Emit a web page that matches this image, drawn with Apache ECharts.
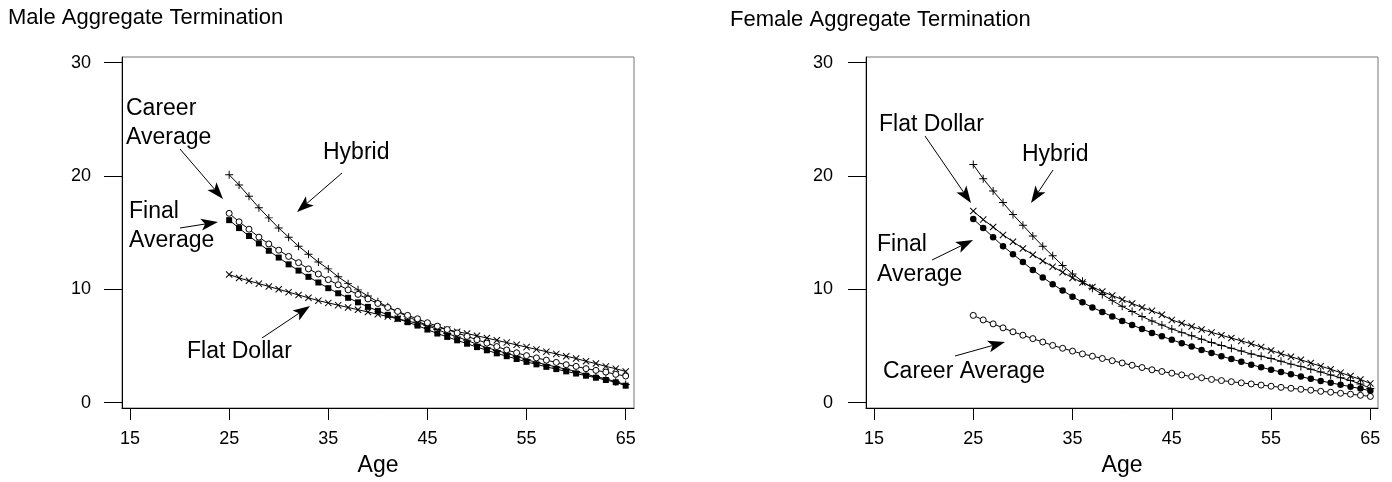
<!DOCTYPE html>
<html>
<head>
<meta charset="utf-8">
<script src="https://cdn.jsdelivr.net/npm/echarts@6/dist/echarts.min.js"></script>
<style>
html,body{margin:0;padding:0;background:#fff;}
#c{width:1392px;height:482px;}
</style>
</head>
<body>
<div id="c"></div>
<script>
// ---------- DATA ----------
const ages = [25,26,27,28,29,30,31,32,33,34,35,36,37,38,39,40,41,42,43,44,45,46,47,48,49,50,51,52,53,54,55,56,57,58,59,60,61,62,63,64,65];
const xTicks = [15,25,35,45,55,65];
const yTicks = [0,10,20,30];

// Male
const maleHybrid = [20.1,19.2,18.2,17.2,16.3,15.4,14.6,13.8,13.1,12.4,11.8,11.1,10.5,9.95,9.4,8.9,8.45,8.0,7.6,7.2,6.8,6.45,6.1,5.8,5.5,5.15,4.85,4.6,4.35,4.1,3.8,3.55,3.35,3.15,2.95,2.75,2.5,2.3,2.1,1.85,1.6];
const maleCareer = [16.7,15.95,15.3,14.6,14.0,13.45,12.9,12.35,11.8,11.35,10.85,10.4,9.95,9.55,9.15,8.75,8.4,8.05,7.7,7.4,7.05,6.75,6.45,6.15,5.85,5.55,5.25,4.95,4.65,4.4,4.15,3.95,3.75,3.55,3.35,3.2,3.0,2.85,2.7,2.5,2.35];
const maleFinal = [16.1,15.4,14.7,14.05,13.4,12.8,12.2,11.65,11.1,10.6,10.1,9.65,9.25,8.85,8.45,8.1,7.75,7.4,7.1,6.8,6.45,6.1,5.8,5.5,5.2,4.9,4.62,4.35,4.1,3.85,3.6,3.38,3.16,2.96,2.76,2.57,2.38,2.2,2.0,1.8,1.5];
const maleFlat = [11.3,11.0,10.75,10.5,10.25,10.0,9.75,9.5,9.25,9.0,8.8,8.6,8.4,8.2,8.0,7.8,7.6,7.4,7.2,7.0,6.85,6.65,6.45,6.25,6.1,5.9,5.7,5.5,5.3,5.1,4.9,4.7,4.5,4.3,4.1,3.9,3.65,3.45,3.2,3.0,2.75];

// Female
const femaleHybrid = [21.0,19.76,18.67,17.65,16.6,15.65,14.7,13.8,12.95,12.1,11.35,10.7,10.1,9.55,9.0,8.5,8.05,7.6,7.2,6.85,6.5,6.2,5.9,5.6,5.3,5.05,4.8,4.55,4.3,4.1,3.9,3.65,3.4,3.2,2.95,2.7,2.45,2.2,1.95,1.65,1.25];
const femaleFlat = [16.9,16.15,15.5,14.8,14.2,13.6,13.05,12.5,12.0,11.5,11.0,10.6,10.2,9.8,9.45,9.1,8.75,8.4,8.1,7.75,7.3,7.0,6.72,6.45,6.2,5.95,5.7,5.45,5.2,4.9,4.6,4.32,4.05,3.78,3.5,3.22,2.95,2.65,2.35,2.05,1.7];
const femaleFinal = [16.2,15.4,14.6,13.8,13.1,12.4,11.7,11.05,10.45,9.9,9.35,8.85,8.4,8.0,7.6,7.2,6.85,6.5,6.15,5.85,5.55,5.25,4.95,4.65,4.38,4.1,3.85,3.6,3.35,3.12,2.9,2.7,2.5,2.3,2.1,1.92,1.75,1.58,1.41,1.24,1.05];
const femaleCareer = [7.7,7.3,6.95,6.6,6.25,5.95,5.65,5.35,5.05,4.8,4.55,4.3,4.1,3.9,3.7,3.5,3.3,3.1,2.9,2.75,2.6,2.45,2.3,2.2,2.05,1.95,1.85,1.75,1.65,1.55,1.45,1.35,1.27,1.18,1.1,1.0,0.92,0.83,0.75,0.65,0.55];

const titles = ["Male Aggregate Termination", "Female Aggregate Termination"];
const xName = "Age";

// ---------- STYLE / LAYOUT ----------
const FONT = '"Liberation Sans", Arial, Helvetica, sans-serif';
const X_PATH = 'path://M1,0L5,4L9,0L10,1L6,5L10,9L9,10L5,6L1,10L0,9L4,5L0,1Z';
const PLUS_PATH = 'path://M4.4,0H5.6V4.4H10V5.6H5.6V10H4.4V5.6H0V4.4H4.4Z';
const RING_PATH = 'path://M5,0A5,5 0 1,1 4.99,0ZM5,1.1A3.9,3.9 0 1,0 5.01,1.1Z';

const grids = [
  {left:122, top:57, width:512, height:351, xmin:14.19, xmax:65.84, labelMargin:31},
  {left:866, top:57, width:512, height:351, xmin:14.195, xmax:65.77, labelMargin:33}
];
const YMIN = -0.47, YMAX = 30.49;

function pairs(vals){ return ages.map((a,i)=>[a, vals[i]]); }

function lineSeries(idx, vals, symbol, size, style){
  return {
    type:'line', xAxisIndex:idx, yAxisIndex:idx, data:pairs(vals),
    symbol: symbol, symbolSize: size, showSymbol:true,
    lineStyle:{color:'#000', width:1},
    itemStyle: style || {color:'#000', borderWidth:0},
    emphasis:{disabled:true}, silent:true, z:3
  };
}
const ringStyle = {color:'#fff', borderColor:'#000', borderWidth:1};

const series = [
  lineSeries(0, maleFlat, X_PATH, 7),
  lineSeries(0, maleHybrid, PLUS_PATH, 8),
  lineSeries(0, maleCareer, 'circle', 6, ringStyle),
  lineSeries(0, maleFinal, 'rect', 6),
  lineSeries(1, femaleCareer, 'circle', 6, ringStyle),
  lineSeries(1, femaleFlat, X_PATH, 7),
  lineSeries(1, femaleHybrid, PLUS_PATH, 8),
  lineSeries(1, femaleFinal, 'circle', 6.5)
];

const xAxes = grids.map((g,i)=>({
  type:'value', gridIndex:i, min:g.xmin, max:g.xmax,
  axisLine:{show:true, onZero:false, lineStyle:{color:'#000', width:1}},
  axisTick:{show:true, length:12, customValues:xTicks, lineStyle:{color:'#000', width:1}},
  axisLabel:{customValues:xTicks, margin:22, fontSize:18, fontFamily:FONT, color:'#000'},
  splitLine:{show:false}
}));
const yAxes = grids.map((g,i)=>({
  type:'value', gridIndex:i, min:YMIN, max:YMAX,
  axisLine:{show:true, onZero:false, lineStyle:{color:'#000', width:1}},
  axisTick:{show:true, length:18, customValues:yTicks, lineStyle:{color:'#000', width:1}},
  axisLabel:{customValues:yTicks, margin:g.labelMargin, fontSize:18, fontFamily:FONT, color:'#000'},
  splitLine:{show:false}
}));

// Annotations (pixel placement)
const texts = [
  {t:titles[0], x:8, y:18, s:22},
  {t:titles[1], x:730, y:20, s:22},
  {t:xName, x:378, y:466, s:23, align:'center'},
  {t:xName, x:1122, y:466, s:23, align:'center'},
  {t:"Career", x:126, y:109, s:23},
  {t:"Average", x:126, y:138, s:23},
  {t:"Final", x:129, y:212, s:23},
  {t:"Average", x:129, y:241, s:23},
  {t:"Hybrid", x:323, y:153, s:23},
  {t:"Flat Dollar", x:187, y:352, s:23},
  {t:"Flat Dollar", x:879, y:125, s:23},
  {t:"Hybrid", x:1022, y:155, s:23},
  {t:"Final", x:877, y:245, s:23},
  {t:"Average", x:877, y:275, s:23},
  {t:"Career Average", x:883, y:372, s:23}
];
const arrows = [
  [180,149,223,199],
  [180,228,218,222],
  [342,173,297,212],
  [262,338,310,306],
  [925,136,971,203],
  [1053,170,1031,203],
  [932,260,973,240],
  [955,356,1005,342]
];

const graphic = [];
texts.forEach(o=>{
  graphic.push({type:'text', x:o.x, y:o.y, silent:true, z:10,
    style:{text:o.t, font: o.s+'px '+FONT, fill:'#000', align:o.align||'left', verticalAlign:'middle'}});
});
arrows.forEach(a=>{
  const [x1,y1,x2,y2]=a;
  const dx=x2-x1, dy=y2-y1, L=Math.hypot(dx,dy), ux=dx/L, uy=dy/L, px=-uy, py=ux;
  const hl=17, hw=6, notch=4;
  const bx=x2-ux*hl, by=y2-uy*hl;
  const nx=x2-ux*(hl-notch), ny=y2-uy*(hl-notch);
  graphic.push({type:'line', silent:true, z:10, shape:{x1:x1,y1:y1,x2:nx,y2:ny}, style:{stroke:'#000', lineWidth:1}});
  graphic.push({type:'polygon', silent:true, z:10, shape:{points:[[x2,y2],[bx+px*hw,by+py*hw],[nx,ny],[bx-px*hw,by-py*hw]]}, style:{fill:'#000'}});
});

const chart = echarts.init(document.getElementById('c'), null, {renderer:'canvas'});
chart.setOption({
  animation:false,
  backgroundColor:'#fff',
  grid: grids.map(g=>({left:g.left, top:g.top, width:g.width, height:g.height, show:true, borderColor:'#777', borderWidth:1, backgroundColor:'transparent'})),
  xAxis:xAxes, yAxis:yAxes, series:series, graphic:graphic
});
</script>
</body>
</html>
